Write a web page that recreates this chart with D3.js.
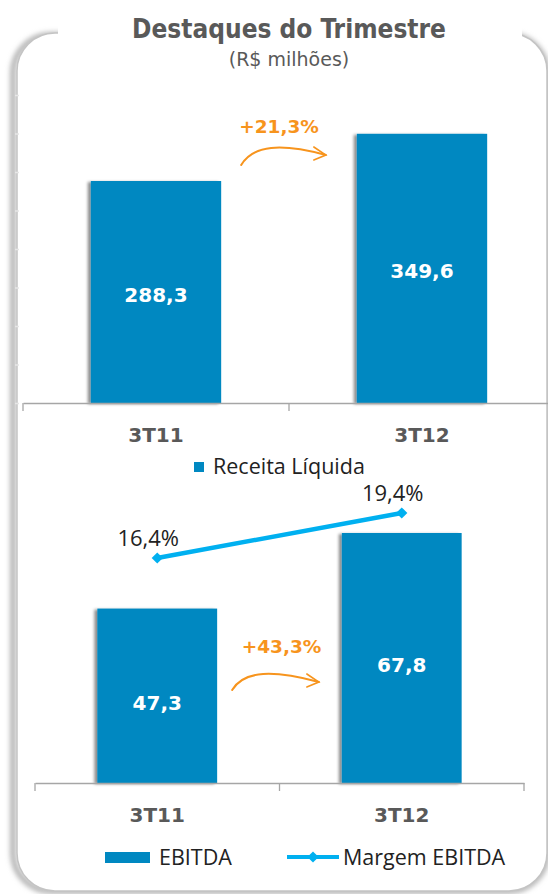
<!DOCTYPE html>
<html>
<head>
<meta charset="utf-8">
<script src="https://cdn.jsdelivr.net/npm/d3@7"></script>
<style>
  html, body { margin: 0; padding: 0; background: #fff; }
  svg { display: block; }
</style>
</head>
<body>
<svg id="chart"></svg>
<script>
// data
const categories = ["3T11", "3T12"];
const receita = [288.3, 349.6];
const ebitda = [47.3, 67.8];
const margem = [16.4, 19.4];
const receitaTicks = [0, 50, 100, 150, 200, 250, 300, 350, 400];

const W = 548, H = 894;
const blue = "#0088c1", lightBlue = "#00b0f0", orange = "#f7941d", grey = "#595959";

const pt = d3.formatLocale({ decimal: ",", thousands: ".", grouping: [3], currency: ["R$", ""] });
const fmt = pt.format(".1f");
const growth = (a, b) => "+" + fmt((b / a - 1) * 100) + "%";

const svg = d3.select("#chart").attr("width", W).attr("height", H);
const defs = svg.append("defs");

defs.append("filter").attr("id", "frameShadow")
  .attr("x", "-10%").attr("y", "-10%").attr("width", "120%").attr("height", "120%")
  .append("feGaussianBlur").attr("stdDeviation", 2.5);

defs.append("filter").attr("id", "barShadow")
  .attr("x", "-20%").attr("y", "-10%").attr("width", "140%").attr("height", "120%")
  .append("feDropShadow")
    .attr("dx", -3).attr("dy", 1).attr("stdDeviation", 1.5)
    .attr("flood-color", "#000").attr("flood-opacity", 0.45);

// frame with shadow
svg.append("rect")
  .attr("x", 13).attr("y", 35).attr("width", 534).attr("height", 856)
  .attr("rx", 38)
  .attr("fill", "none").attr("stroke", "#b5b5b5").attr("stroke-width", 6)
  .attr("filter", "url(#frameShadow)");

svg.append("rect")
  .attr("x", 17).attr("y", 33).attr("width", 530).attr("height", 858)
  .attr("rx", 38)
  .attr("fill", "#fff").attr("stroke", "#c4c4c4").attr("stroke-width", 1.5);

// title box covers the top edge of the frame
svg.append("rect")
  .attr("x", 58).attr("y", 0).attr("width", 464).attr("height", 50)
  .attr("fill", "#fff");

svg.append("text")
  .attr("x", 289).attr("y", 38)
  .attr("text-anchor", "middle")
  .style("font-family", "'DejaVu Sans Condensed', 'DejaVu Sans'")
  .style("font-stretch", "condensed")
  .style("font-weight", "bold")
  .style("font-size", "26px")
  .attr("fill", grey)
  .text("Destaques do Trimestre");

svg.append("text")
  .attr("x", 289).attr("y", 66)
  .attr("text-anchor", "middle")
  .style("font-family", "'DejaVu Sans'")
  .style("font-size", "19px")
  .attr("fill", grey)
  .text("(R$ milhões)");

// draws one bar panel: bars, value labels, category axis, growth arrow
function drawPanel(cfg) {
  const x = d3.scaleBand()
    .domain(categories)
    .range([cfg.x0, cfg.x1])
    .paddingInner(0.51)
    .paddingOuter(0.255);

  const y = d3.scaleLinear()
    .domain(cfg.domain)
    .range([cfg.base, cfg.top]);

  const g = svg.append("g");
  const rows = categories.map((c, i) => ({ cat: c, value: cfg.values[i] }));

  g.selectAll("rect.bar")
    .data(rows)
    .join("rect")
      .attr("class", "bar")
      .attr("x", d => x(d.cat))
      .attr("y", d => y(d.value))
      .attr("width", x.bandwidth())
      .attr("height", d => y(0) - y(d.value))
      .attr("fill", blue)
      .attr("filter", "url(#barShadow)");

  g.selectAll("text.val")
    .data(rows)
    .join("text")
      .attr("class", "val")
      .attr("x", d => x(d.cat) + x.bandwidth() / 2)
      .attr("y", d => (y(d.value) + y(0)) / 2 + cfg.labelShift)
      .attr("text-anchor", "middle")
      .style("font-family", "'DejaVu Sans'")
      .style("font-weight", "bold")
      .style("font-size", "20px")
      .attr("fill", "#fff")
      .text(d => fmt(d.value));

  // category axis, ticks sit on band boundaries
  const xAxis = d3.axisBottom(x).tickSize(0).tickPadding(25);
  const xAxisG = g.append("g")
    .attr("transform", `translate(0,${cfg.base})`)
    .call(xAxis);
  xAxisG.select(".domain").attr("stroke", "#a6a6a6").attr("stroke-width", 1.3);
  xAxisG.selectAll("text")
    .style("font-family", "'DejaVu Sans'")
    .style("font-weight", "bold")
    .style("font-size", "20px")
    .attr("fill", grey);

  const gap = x.step() - x.bandwidth();
  const bounds = [cfg.x0].concat(categories.slice(1).map(c => x(c) - gap / 2), [cfg.x1]);
  g.selectAll("line.bound")
    .data(bounds)
    .join("line")
      .attr("class", "bound")
      .attr("x1", d => d).attr("x2", d => d)
      .attr("y1", cfg.base).attr("y2", cfg.base + 8)
      .attr("stroke", "#a6a6a6").attr("stroke-width", 1.3);

  // growth annotation between the bars
  const left = x(categories[0]) + x.bandwidth();
  const right = x(categories[1]);
  const mid = (left + right) / 2;

  g.append("text")
    .attr("x", mid + cfg.growthDx)
    .attr("y", cfg.growthY)
    .attr("text-anchor", "middle")
    .style("font-family", "'DejaVu Sans'")
    .style("font-weight", "bold")
    .style("font-size", "18.5px")
    .attr("fill", orange)
    .text(growth(cfg.values[0], cfg.values[1]));

  const ax0 = left + cfg.arrowPad[0], ax1 = right - cfg.arrowPad[1];
  const ay = cfg.growthY + cfg.arrowDy, ayEnd = ay - cfg.arrowRise;
  const arc = d3.path();
  arc.moveTo(ax0, ay);
  arc.bezierCurveTo(ax0 + 12, ay - 20, ax1 - 45, ayEnd - 12, ax1, ayEnd);
  g.append("path")
    .attr("d", arc.toString())
    .attr("fill", "none")
    .attr("stroke", orange)
    .attr("stroke-width", 2)
    .attr("stroke-linecap", "round");
  const head = d3.path();
  head.moveTo(ax1 - 12, ayEnd - 8);
  head.lineTo(ax1, ayEnd);
  head.lineTo(ax1 - 12, ayEnd + 5);
  g.append("path")
    .attr("d", head.toString())
    .attr("fill", "none")
    .attr("stroke", orange)
    .attr("stroke-width", 1.6)
    .attr("stroke-linecap", "round");

  return { x, y, g };
}

// top panel: Receita Liquida
const topPanel = drawPanel({
  values: receita, domain: [0, 400],
  x0: 23, x1: 555, base: 403, top: 95,
  labelShift: 10, growthY: 133, growthDx: -10,
  arrowPad: [20, 31], arrowDy: 32, arrowRise: 10
});

const yAxis = d3.axisLeft(topPanel.y).tickValues(receitaTicks).tickSize(4).tickFormat("");
const yAxisG = svg.append("g").attr("transform", "translate(19,0)").call(yAxis);
yAxisG.select(".domain").remove();
yAxisG.selectAll(".tick line").attr("stroke", "#e6e6e6").attr("stroke-width", 1.5);

const legTop = svg.append("g").attr("transform", "translate(194,462)");
legTop.append("rect").attr("width", 10).attr("height", 10).attr("fill", blue);
legTop.append("text")
  .attr("x", 19).attr("y", 12)
  .style("font-family", "'Open Sans'")
  .style("font-size", "21.5px")
  .attr("fill", "#222")
  .text("Receita Líquida");

// bottom panel: EBITDA and margin
const botPanel = drawPanel({
  values: ebitda, domain: [0, 80],
  x0: 35, x1: 524, base: 783, top: 488,
  labelShift: 14, growthY: 653, growthDx: 2,
  arrowPad: [15, 23], arrowDy: 37, arrowRise: 8
});

const yPct = d3.scaleLinear().domain([0, 20]).range([804, 504]);
const pts = categories.map((c, i) => ({ cat: c, value: margem[i] }));
const cx = d => botPanel.x(d.cat) + botPanel.x.bandwidth() / 2;
const line = d3.line()
  .x(cx)
  .y(d => yPct(d.value));

svg.append("path")
  .datum(pts)
  .attr("d", line)
  .attr("fill", "none")
  .attr("stroke", lightBlue)
  .attr("stroke-width", 4.5);

const diamond = d3.symbol().type(d3.symbolDiamond2).size(80);
svg.selectAll("path.mark")
  .data(pts)
  .join("path")
    .attr("class", "mark")
    .attr("d", diamond)
    .attr("transform", d => `translate(${cx(d)},${yPct(d.value)})`)
    .attr("fill", lightBlue);

svg.selectAll("text.pct")
  .data(pts)
  .join("text")
    .attr("class", "pct")
    .attr("x", d => cx(d) - 9)
    .attr("y", d => yPct(d.value) - 12)
    .attr("text-anchor", "middle")
    .style("font-family", "'Open Sans'")
    .style("font-size", "22px")
    .attr("fill", "#222")
    .text(d => fmt(d.value) + "%");

const legBot = svg.append("g").attr("transform", "translate(0,857)");
legBot.append("rect").attr("x", 105).attr("y", -5).attr("width", 45).attr("height", 11).attr("fill", blue);
legBot.append("text")
  .attr("x", 159).attr("y", 8)
  .style("font-family", "'Open Sans'")
  .style("font-size", "21.5px")
  .attr("fill", "#222")
  .text("EBITDA");
legBot.append("line")
  .attr("x1", 287).attr("x2", 339)
  .attr("stroke", lightBlue).attr("stroke-width", 4);
legBot.append("path")
  .attr("d", diamond)
  .attr("transform", "translate(313,0)")
  .attr("fill", lightBlue);
legBot.append("text")
  .attr("x", 343).attr("y", 8)
  .style("font-family", "'Open Sans'")
  .style("font-size", "21.5px")
  .attr("fill", "#222")
  .text("Margem EBITDA");
</script>
</body>
</html>
